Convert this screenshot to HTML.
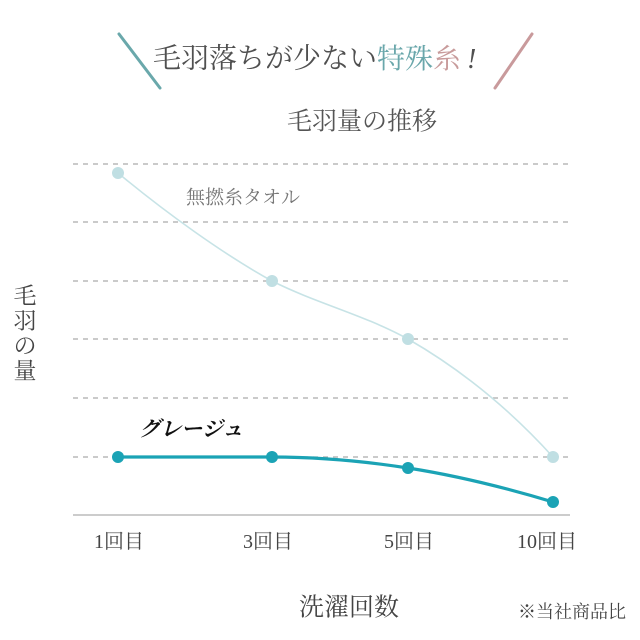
<!DOCTYPE html>
<html><head><meta charset="utf-8"><style>
html,body{margin:0;padding:0;background:#fff;}
svg{display:block;}
text{font-family:"Liberation Serif","Noto Serif CJK SC",serif;}
</style></head><body>
<svg width="640" height="640" viewBox="0 0 640 640" xmlns="http://www.w3.org/2000/svg">
<rect width="640" height="640" fill="#fff"/>
<!-- title slashes -->
<line x1="119" y1="34" x2="160" y2="88" stroke="#6aa8ab" stroke-width="3" stroke-linecap="round"/>
<line x1="532" y1="34" x2="495" y2="88" stroke="#c99a9c" stroke-width="3" stroke-linecap="round"/>
<text x="153" y="59" font-size="28" fill="#505050" dominant-baseline="central">毛羽落ちが少ない<tspan fill="#6aa7ab">特殊</tspan><tspan fill="#c89b9b">糸</tspan><tspan fill="#505050" font-style="italic" dx="6">!</tspan></text>
<text x="362" y="122" font-size="25" fill="#555" text-anchor="middle" dominant-baseline="central">毛羽量の推移</text>
<!-- grid -->
<g stroke="#aaa" stroke-width="1.3" stroke-dasharray="5 5">
<line x1="73" y1="164" x2="570" y2="164"/>
<line x1="73" y1="222" x2="570" y2="222"/>
<line x1="73" y1="281" x2="570" y2="281"/>
<line x1="73" y1="339" x2="570" y2="339"/>
<line x1="73" y1="398" x2="570" y2="398"/>
<line x1="73" y1="457" x2="570" y2="457"/>
</g>
<line x1="73" y1="515" x2="570" y2="515" stroke="#bbb" stroke-width="1.5"/>
<!-- light series -->
<path d="M118,173 C165,212 223,254 272,281 C318,304 362,314 408,339 C455,366 505,404 553,457" fill="none" stroke="#c7e3e6" stroke-width="1.6"/>
<g fill="#c0dfe3">
<circle cx="118" cy="173" r="6"/>
<circle cx="272" cy="281" r="6"/>
<circle cx="408" cy="339" r="6"/>
<circle cx="553" cy="457" r="6"/>
</g>
<!-- teal series -->
<path d="M118,457 L272,457 C317,457 363,461 408,468 C456,475.5 505,487.5 553,502" fill="none" stroke="#1ba3b5" stroke-width="3.2"/>
<g fill="#1ba3b5">
<circle cx="118" cy="457" r="6"/>
<circle cx="272" cy="457" r="6"/>
<circle cx="408" cy="468" r="6"/>
<circle cx="553" cy="502" r="6"/>
</g>
<!-- series labels -->
<text x="186" y="198" font-size="19" fill="#777" dominant-baseline="central">無撚糸タオル</text>
<text x="139" y="429" font-size="21" fill="#111" font-style="italic" font-weight="bold" dominant-baseline="central">グレージュ</text>
<!-- y label -->
<g font-size="23" fill="#444" text-anchor="middle" dominant-baseline="central">
<text x="25" y="296">毛</text>
<text x="25" y="321">羽</text>
<text x="25" y="346">の</text>
<text x="25" y="371">量</text>
</g>
<!-- x ticks -->
<g font-size="20" fill="#444" text-anchor="middle" dominant-baseline="central">
<text x="119" y="542">1回目</text>
<text x="268" y="542">3回目</text>
<text x="409" y="542">5回目</text>
<text x="547" y="542">10回目</text>
</g>
<text x="349" y="608" font-size="25" fill="#444" text-anchor="middle" dominant-baseline="central">洗濯回数</text>
<text x="572" y="612" font-size="18" fill="#444" text-anchor="middle" dominant-baseline="central">※当社商品比</text>
</svg>
</body></html>
